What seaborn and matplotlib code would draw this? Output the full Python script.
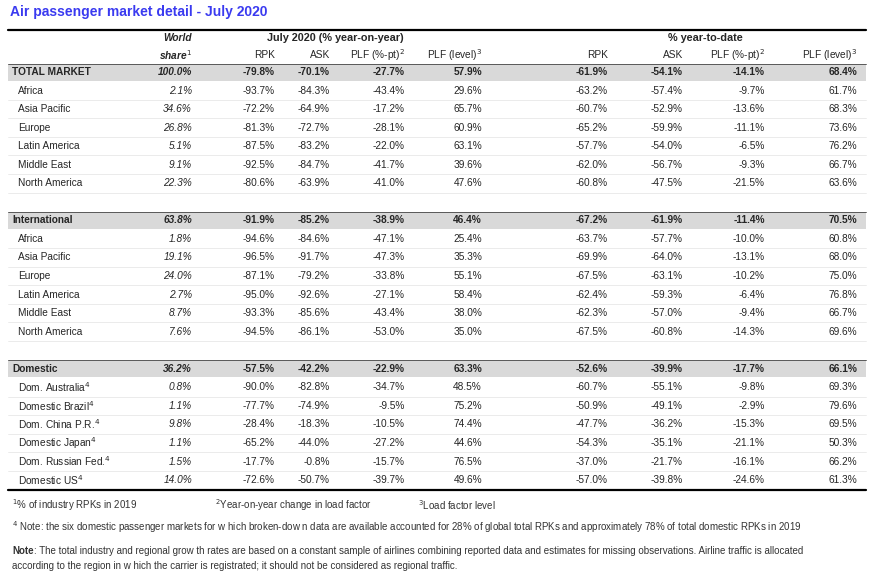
import matplotlib
matplotlib.use("Agg")
import matplotlib.pyplot as plt
import seaborn as sns

sns.set_theme(style="white")
plt.rcParams['font.family'] = ['Liberation Sans', 'DejaVu Sans']

title = "Air passenger market detail - July 2020"
rows = ["TOTAL MARKET", "Africa", "Asia Pacific", "Europe", "Latin America", "Middle East", "North America",
        None,
        "International", "Africa", "Asia Pacific", "Europe", "Latin America", "Middle East", "North America",
        None,
        "Domestic", "Dom. Australia$^4$", "Domestic Brazil$^4$", "Dom. China P.R.$^4$", "Domestic Japan$^4$",
        "Dom. Russian Fed.$^4$", "Domestic US$^4$"]
bold_rows = {"TOTAL MARKET", "International", "Domestic"}
share = ["100.0%", "2.1%", "34.6%", "26.8%", "5.1%", "9.1%", "22.3%", None,
         "63.8%", "1.8%", "19.1%", "24.0%", "2.7%", "8.7%", "7.6%", None,
         "36.2%", "0.8%", "1.1%", "9.8%", "1.1%", "1.5%", "14.0%"]
rpk_m = [-79.8, -93.7, -72.2, -81.3, -87.5, -92.5, -80.6, None, -91.9, -94.6, -96.5, -87.1, -95.0, -93.3, -94.5, None,
         -57.5, -90.0, -77.7, -28.4, -65.2, -17.7, -72.6]
ask_m = [-70.1, -84.3, -64.9, -72.7, -83.2, -84.7, -63.9, None, -85.2, -84.6, -91.7, -79.2, -92.6, -85.6, -86.1, None,
         -42.2, -82.8, -74.9, -18.3, -44.0, -0.8, -50.7]
plfpt_m = [-27.7, -43.4, -17.2, -28.1, -22.0, -41.7, -41.0, None, -38.9, -47.1, -47.3, -33.8, -27.1, -43.4, -53.0, None,
           -22.9, -34.7, -9.5, -10.5, -27.2, -15.7, -39.7]
plflv_m = [57.9, 29.6, 65.7, 60.9, 63.1, 39.6, 47.6, None, 46.4, 25.4, 35.3, 55.1, 58.4, 38.0, 35.0, None,
           63.3, 48.5, 75.2, 74.4, 44.6, 76.5, 49.6]
rpk_y = [-61.9, -63.2, -60.7, -65.2, -57.7, -62.0, -60.8, None, -67.2, -63.7, -69.9, -67.5, -62.4, -62.3, -67.5, None,
         -52.6, -60.7, -50.9, -47.7, -54.3, -37.0, -57.0]
ask_y = [-54.1, -57.4, -52.9, -59.9, -54.0, -56.7, -47.5, None, -61.9, -57.7, -64.0, -63.1, -59.3, -57.0, -60.8, None,
         -39.9, -55.1, -49.1, -36.2, -35.1, -21.7, -39.8]
plfpt_y = [-14.1, -9.7, -13.6, -11.1, -6.5, -9.3, -21.5, None, -11.4, -10.0, -13.1, -10.2, -6.4, -9.4, -14.3, None,
           -17.7, -9.8, -2.9, -15.3, -21.1, -16.1, -24.6]
plflv_y = [68.4, 61.7, 68.3, 73.6, 76.2, 66.7, 63.6, None, 70.5, 60.8, 68.0, 75.0, 76.8, 66.7, 69.6, None,
           66.1, 69.3, 79.6, 69.5, 50.3, 66.2, 61.3]
col_headers = ["RPK", "ASK", "PLF (%-pt)$^2$", "PLF (level)$^3$", "RPK", "ASK", "PLF (%-pt)$^2$", "PLF (level)$^3$"]
group_headers = ["July 2020 (% year-on-year)", "% year-to-date"]
foot1 = ["$^1$% of industry RPKs in 2019", "$^2$Year-on-year change in load factor", "$^3$Load factor level"]
foot2 = "$^4$ Note: the six domestic passenger markets for w hich broken-dow n data are available accounted for 28% of global total RPKs and approximately 78% of total domestic RPKs in 2019"
foot3a = "Note"
foot3b = ": The total industry and regional grow th rates are based on a constant sample of airlines combining reported data and estimates for missing observations. Airline traffic is allocated"
foot3c = "according to the region in w hich the carrier is registrated; it should not be considered as regional traffic."

fig = plt.figure(figsize=(8.72, 5.82), dpi=100)
ax = fig.add_axes([0, 0, 1, 1])
ax.set_xlim(0, 872); ax.set_ylim(582, 0); ax.axis('off')

fs = 7.3
ax.text(10, 12, title, color="#3a3af0", fontsize=10, fontweight='bold', va='center')
ax.plot([8, 866], [30, 30], color='black', lw=1.6)
ax.text(192, 38, "World", fontsize=fs, fontweight='bold', style='italic', ha='right', va='center')
ax.text(192, 55, "share$^1$", fontsize=fs, fontweight='bold', style='italic', ha='right', va='center')
ax.text(335, 38, group_headers[0], fontsize=fs + 0.5, fontweight='bold', ha='center', va='center')
ax.text(705, 38, group_headers[1], fontsize=fs + 0.5, fontweight='bold', ha='center', va='center')
col_x = [275, 330, 405, 482, 608, 683, 765, 857]
for x, h in zip(col_x, col_headers):
    ax.text(x, 55, h, fontsize=fs, ha='right', va='center')

cols = [rpk_m, ask_m, plfpt_m, plflv_m, rpk_y, ask_y, plfpt_y, plflv_y]
y0, dy = 72, 18.55
for i, name in enumerate(rows):
    if name is None:
        continue
    y = y0 + i * dy
    bold = name in bold_rows
    if bold:
        ax.fill_between([8, 866], y - 8.5, y + 8.5, color='#d9d9d9', lw=0)
        ax.plot([8, 866], [y - 8.5, y - 8.5], color='#444444', lw=0.6)
    else:
        ax.plot([8, 866], [y + 9.2, y + 9.2], color='#e3e3e3', lw=0.5)
    fw = 'bold' if bold else 'normal'
    ax.text(12 if bold else 18, y, name, fontsize=fs, fontweight=fw, va='center')
    ax.text(192, y, share[i], fontsize=fs, fontweight=fw, style='italic', ha='right', va='center')
    for x, c in zip(col_x, cols):
        ax.text(x, y, f"{c[i]:.1f}%", fontsize=fs, fontweight=fw, ha='right', va='center')

ax.plot([8, 866], [490, 490], color='black', lw=1.6)
ff = 7.0
for x, t in zip([12, 215, 418], foot1):
    ax.text(x, 505, t, fontsize=ff, color='#333333', va='center')
ax.text(12, 527, foot2, fontsize=ff, color='#333333', va='center')
ax.text(12, 551, foot3a, fontsize=ff, fontweight='bold', color='#333333', va='center')
ax.text(34, 551, foot3b, fontsize=ff, color='#333333', va='center')
ax.text(12, 566, foot3c, fontsize=ff, color='#333333', va='center')

fig.savefig("out.png", dpi=100)
